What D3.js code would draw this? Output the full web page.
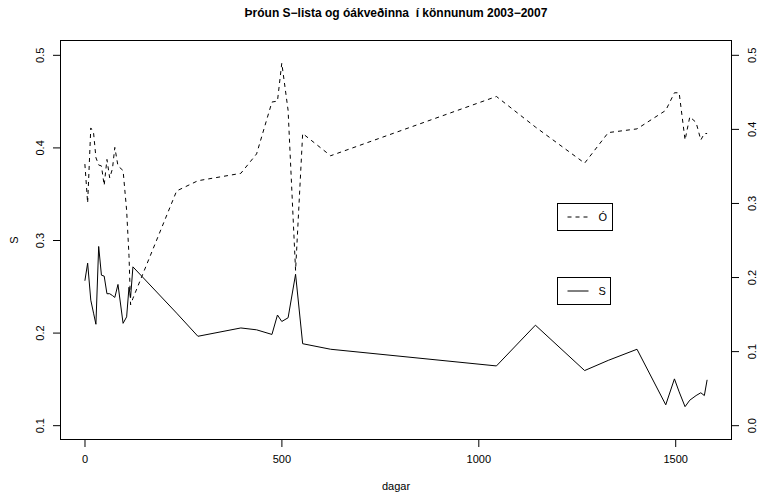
<!DOCTYPE html>
<html>
<head>
<meta charset="utf-8">
<script src="https://cdn.jsdelivr.net/npm/d3@7"></script>
<style>
  body { margin: 0; background: #fff; }
  svg text { font-family: "Liberation Sans", Arial, sans-serif; }
</style>
</head>
<body>
<div class="container"></div>
<script>
// days since first poll
var days = [1, 8, 16, 23, 29, 36, 43, 50, 57, 64, 71, 77, 85, 98, 107, 113, 117, 123,
    234, 288, 397, 437, 476, 490, 501, 517, 536, 554, 625, 1046, 1145, 1270, 1330, 1403,
    1476, 1498, 1510, 1525, 1537, 1553, 1565, 1574, 1581];

// share of undecided (Ó)
var oValues = [0.382, 0.340, 0.421, 0.416, 0.389, 0.381, 0.380, 0.359, 0.387, 0.367, 0.377,
    0.400, 0.380, 0.375, 0.332, 0.283, 0.230, 0.237, 0.353, 0.364, 0.372, 0.393, 0.449,
    0.450, 0.491, 0.440, 0.267, 0.415, 0.391, 0.455, 0.422, 0.383, 0.416, 0.420, 0.440,
    0.459, 0.459, 0.408, 0.433, 0.427, 0.408, 0.415, 0.415];

// share of S-list (S)
var sValues = [0.256, 0.275, 0.235, 0.221, 0.209, 0.293, 0.262, 0.261, 0.242, 0.242, 0.240,
    0.238, 0.252, 0.210, 0.217, 0.249, 0.238, 0.271, 0.221, 0.196, 0.205, 0.203, 0.198,
    0.219, 0.212, 0.216, 0.263, 0.188, 0.182, 0.164, 0.208, 0.159, 0.170, 0.182, 0.122,
    0.150, 0.136, 0.120, 0.127, 0.132, 0.135, 0.132, 0.149];

var xTicks = [0, 500, 1000, 1500];
var leftTicks = [0.1, 0.2, 0.3, 0.4, 0.5];
var rightTicks = [0.0, 0.1, 0.2, 0.3, 0.4, 0.5];
var legendLabels = ["Ó", "S"];

var width = 761,
    height = 494;
var margin = {top: 40, right: 29, bottom: 54, left: 60};

var svg = d3.select(".container").append("svg")
    .attr("width", width)
    .attr("height", height);

// R style 4% padding on the axis ranges
function pad(lo, hi) {
    var d = (hi - lo) * 0.04;
    return [lo - d, hi + d];
}

var x = d3.scaleLinear()
    .domain(pad(d3.min(days), d3.max(days)))
    .range([margin.left, width - margin.right]);

var y = d3.scaleLinear()
    .domain(pad(0.1, 0.5))
    .range([height - margin.bottom, margin.top]);

var y2 = d3.scaleLinear()
    .domain(pad(0, 0.5))
    .range([height - margin.bottom, margin.top]);

var fmt = d3.format(".1f");

// x axis
svg.append("g")
    .attr("transform", `translate(0,${height - margin.bottom})`)
    .style("font-size", "11px")
    .call(d3.axisBottom(x).tickValues(xTicks).tickFormat(d3.format("d")).tickSize(7).tickPadding(8))
    .call(g => g.select(".domain").remove())
    .call(g => g.selectAll("text").attr("fill", "#000").style("font-family", "'Liberation Sans', Arial, sans-serif"));

// left axis
var yAxis = svg.append("g")
    .attr("transform", `translate(${margin.left},0)`)
    .call(d3.axisLeft(y).tickValues(leftTicks).tickFormat(fmt).tickSize(7))
    .call(g => g.select(".domain").remove());
yAxis.selectAll("text").remove();
yAxis.selectAll(".tick").append("text")
    .attr("transform", "translate(-20,0) rotate(-90)")
    .attr("text-anchor", "middle")
    .attr("dy", "0.35em")
    .attr("fill", "#000")
    .style("font-size", "11px")
    .text(d => fmt(d));

// right axis
var yAxis2 = svg.append("g")
    .attr("transform", `translate(${width - margin.right},0)`)
    .call(d3.axisRight(y2).tickValues(rightTicks).tickFormat(fmt).tickSize(7))
    .call(g => g.select(".domain").remove());
yAxis2.selectAll("text").remove();
yAxis2.selectAll(".tick").append("text")
    .attr("transform", "translate(20,0) rotate(-90)")
    .attr("text-anchor", "middle")
    .attr("dy", "0.35em")
    .attr("fill", "#000")
    .style("font-size", "11px")
    .text(d => fmt(d));

// plot box
svg.append("rect")
    .attr("x", margin.left + 0.5)
    .attr("y", margin.top + 0.5)
    .attr("width", width - margin.left - margin.right - 1)
    .attr("height", height - margin.top - margin.bottom - 1)
    .attr("fill", "none")
    .attr("stroke", "#000");

var line = d3.line()
    .x((d, i) => x(days[i]))
    .y(d => y(d));

// dashed line for undecided
svg.append("path")
    .datum(oValues)
    .attr("fill", "none")
    .attr("stroke", "#000")
    .attr("stroke-dasharray", "4,4")
    .attr("d", line);

// solid line for S
svg.append("path")
    .datum(sValues)
    .attr("fill", "none")
    .attr("stroke", "#000")
    .attr("d", line);

// legends, two separate boxes like in R
var legend = svg.append("g")
    .selectAll("g")
    .data(legendLabels)
    .join("g")
    .attr("transform", (d, i) => `translate(557.5,${i == 0 ? 203.5 : 277.5})`);

legend.append("rect")
    .attr("width", (d, i) => i == 0 ? 55 : 53)
    .attr("height", 27)
    .attr("fill", "#fff")
    .attr("stroke", "#000");

legend.append("line")
    .attr("x1", 10)
    .attr("x2", 31)
    .attr("y1", 13.5)
    .attr("y2", 13.5)
    .attr("stroke", "#000")
    .attr("stroke-dasharray", (d, i) => i == 0 ? "4,4" : null);

legend.append("text")
    .attr("x", 41)
    .attr("y", 13.5)
    .attr("dy", "0.35em")
    .style("font-size", "11px")
    .text(d => d);

// title and axis titles
svg.append("text")
    .attr("x", (margin.left + width - margin.right) / 2)
    .attr("y", 13)
    .attr("dy", "0.35em")
    .attr("text-anchor", "middle")
    .style("font-size", "12px")
    .style("font-weight", "bold")
    .style("white-space", "pre")
    .text("Þróun S\u2212lista og óákveðinna  í könnunum 2003\u22122007");

svg.append("text")
    .attr("x", (margin.left + width - margin.right) / 2)
    .attr("y", 486)
    .attr("dy", "0.35em")
    .attr("text-anchor", "middle")
    .style("font-size", "11px")
    .text("dagar");

svg.append("text")
    .attr("transform", `translate(14,${(margin.top + height - margin.bottom) / 2}) rotate(-90)`)
    .attr("text-anchor", "middle")
    .attr("dy", "0.35em")
    .style("font-size", "11px")
    .text("S");
</script>
</body>
</html>
